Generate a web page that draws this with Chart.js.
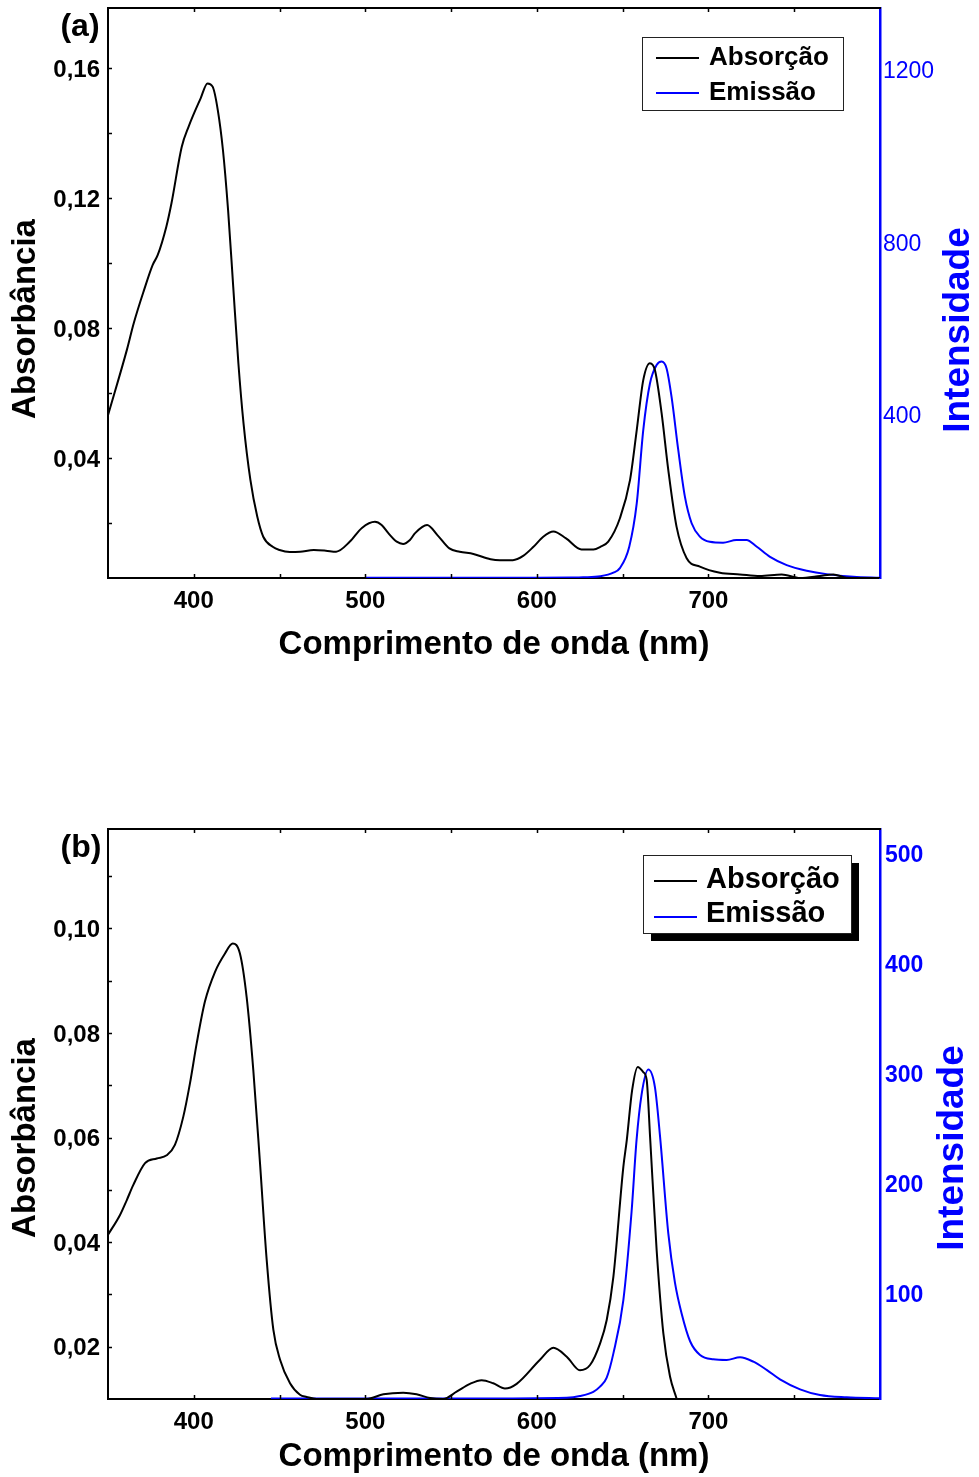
<!DOCTYPE html>
<html><head><meta charset="utf-8">
<script src="https://cdn.jsdelivr.net/npm/chart.js@4.4.1/dist/chart.umd.min.js"></script>
<style>
html,body{margin:0;padding:0;background:#fff;}
body{width:979px;height:1477px;position:relative;overflow:hidden;}
canvas{position:absolute;left:0;}
</style></head><body>
<canvas id="ca" width="979" height="690" style="top:0;width:979px;height:690px"></canvas>
<canvas id="cb" width="979" height="657" style="top:820px;width:979px;height:657px"></canvas>
<script>
const FONT = "'Liberation Sans', Arial, Helvetica, sans-serif";

// ---------- Panel (a) data ----------
const absA_wl = [350,361,365,371,376,379,384,387,393,397,404,408,411,414,417,420,423,426,429,433,437,440.5,446,450,456,462,470,477,483,491,498,505.6,509.5,513.4,518.3,522,526,529,536,542,549,555,563,573,578.5,586,592,598,603.7,609.6,617,626,633,637,641.6,648.4,654.3,658.2,662,665.9,668.8,672.7,676.6,681.4,687.3,695,706.7,718.3,730,742.7,753.4,765,772.8,780.6,800];
const absA_val = [0.0532,0.0733,0.0815,0.0917,0.0994,0.1025,0.1112,0.1184,0.1358,0.1420,0.1507,0.1553,0.1543,0.1471,0.1348,0.1163,0.0927,0.0692,0.0507,0.0333,0.0220,0.0158,0.0127,0.0117,0.0111,0.0112,0.0117,0.0115,0.0112,0.0143,0.0185,0.0204,0.0194,0.0169,0.0143,0.0136,0.0148,0.0169,0.0194,0.0163,0.0122,0.0112,0.0105,0.0089,0.0086,0.0086,0.0099,0.0127,0.0158,0.0174,0.0153,0.0119,0.0119,0.0127,0.0143,0.0215,0.0333,0.0486,0.0640,0.0692,0.0671,0.0538,0.0363,0.0189,0.0092,0.0066,0.0047,0.0042,0.0037,0.0042,0.0031,0.0037,0.0042,0.0032,0.0031];
const emA_wl = [500,560,600,620,627,637,644.6,648.4,653.8,658.2,662,665.9,669.8,672.7,675.6,678.5,682.4,686.3,690.2,695,700.8,708.5,716.3,722.2,728,735.9,745.6,757.3,768.9,784.5,800];
const emA_val = [22.5,22.5,22.5,23,23.6,26,34.3,45,94,195,365,473,516,524,508,442,319,210,149,118,106,104,110,110,95,71,52,39,31,25,22.7];

// ---------- Panel (b) data ----------
const absB_wl = [350,357,360.9,364.7,371.6,378.4,384.2,389,393.9,397.8,401.7,406.5,412.4,418.2,422.7,426.9,430.8,434.7,438.6,442.5,446.4,450.3,456.1,461.9,465.8,471.6,479,500.8,510.5,522.1,529.9,537.7,545.4,553.2,561,567.8,574.6,581.4,588.2,601.8,609.6,617.4,625.1,631,636.8,640.7,644.6,650.4,652.4,655.5,658.8,662,664,666,669.8,673.7,677.6,681.5,684];
const absB_val = [0.0414,0.0452,0.0480,0.0509,0.0551,0.0560,0.0566,0.0586,0.0640,0.0704,0.0780,0.0860,0.0917,0.0952,0.0971,0.0952,0.0869,0.0729,0.0551,0.0366,0.0232,0.0175,0.0130,0.0108,0.0104,0.0100,0.0100,0.0100,0.0109,0.0112,0.0109,0.0102,0.0100,0.0114,0.0129,0.0136,0.0130,0.0120,0.0129,0.0175,0.0198,0.0181,0.0155,0.0165,0.0206,0.0251,0.0334,0.0544,0.0595,0.0690,0.0735,0.0725,0.0710,0.0600,0.0385,0.0226,0.0143,0.0100,0.0070];
const emB_wl = [445,500,560,617.4,625.1,632.9,636.8,640.7,644.6,650.4,655.2,658.1,661,664.9,668.8,671.8,676.6,680.5,684.4,689.3,695.1,702.8,710.6,718.4,726.2,733.9,741.7,753.4,765,780.6,800];
const emB_val = [5,5,5,5.7,7.2,11,15.7,24,46,94.5,175,240,281,304,288,243,155,110,82,57,44.5,40.6,40,42.4,38.4,31,22.4,13.3,8.1,6,5.1];

// ---------- ticks & labels ----------
const xTicks = [400,500,600,700];
const xMinor = [400,450,500,550,600,650,700,750];
const yTicksA = [0.04,0.08,0.12,0.16];
const yMinorA = [0.02,0.04,0.06,0.08,0.10,0.12,0.14,0.16];
const y2TicksA = [400,800,1200];
const yTicksB = [0.02,0.04,0.06,0.08,0.10];
const yMinorB = [0.02,0.03,0.04,0.05,0.06,0.07,0.08,0.09,0.10,0.11];
const y2TicksB = [100,200,300,400,500];
const seriesLabels = ['Absorção','Emissão'];
const titleX = 'Comprimento de onda (nm)';
const titleY = 'Absorbância';
const titleY2 = 'Intensidade';
const panelLabels = ['(a)','(b)'];

function pts(xs, ys){ return xs.map((x,i)=>({x:x, y:ys[i]})); }
const comma = v => Number(v).toFixed(2).replace('.', ',');
function noPad(sc){ sc.paddingTop = 0; sc.paddingBottom = 0; sc.paddingLeft = 0; sc.paddingRight = 0; }

const decor = {
  id:'decor',
  afterDraw(chart, args, o){
    const ctx = chart.ctx, a = chart.chartArea, s = chart.scales;
    ctx.save();
    ctx.strokeStyle='#000'; ctx.lineWidth=2;
    ctx.beginPath(); ctx.moveTo(a.left-1,a.top); ctx.lineTo(a.right+1,a.top); ctx.stroke();
    ctx.lineWidth=1.5;
    ctx.beginPath();
    o.xMinor.forEach(v=>{const p=Math.round(s.x.getPixelForValue(v))+0.5;
      ctx.moveTo(p,a.bottom); ctx.lineTo(p,a.bottom-o.tick);
      ctx.moveTo(p,a.top); ctx.lineTo(p,a.top+o.tick);});
    o.yMinor.forEach(v=>{const p=Math.round(s.y.getPixelForValue(v))+0.5;
      ctx.moveTo(a.left,p); ctx.lineTo(a.left+o.tick,p);});
    ctx.stroke();
    ctx.fillStyle='#000'; ctx.font='bold '+o.panelSize+'px '+FONT;
    ctx.textAlign='center'; ctx.textBaseline='alphabetic';
    ctx.fillText(o.panel, o.panelX, o.panelY);
    ctx.textBaseline='middle';
    ctx.save(); ctx.translate(o.yTitle.x, o.yTitle.y); ctx.rotate(-Math.PI/2);
    ctx.font='bold '+o.yTitle.size+'px '+FONT; ctx.fillStyle='#000';
    ctx.fillText(titleY,0,0); ctx.restore();
    ctx.save(); ctx.translate(o.y2Title.x, o.y2Title.y); ctx.rotate(-Math.PI/2);
    ctx.font='bold '+o.y2Title.size+'px '+FONT; ctx.fillStyle='#0000ff';
    ctx.fillText(titleY2,0,0); ctx.restore();
    const L = o.legend;
    if (L.shadow){ ctx.fillStyle='#000'; ctx.fillRect(L.x+L.shadow, L.y+L.shadow, L.w, L.h); }
    ctx.fillStyle='#fff'; ctx.fillRect(L.x, L.y, L.w, L.h);
    ctx.strokeStyle='#222'; ctx.lineWidth=1; ctx.strokeRect(L.x+0.5, L.y+0.5, L.w, L.h);
    chart.data.datasets.forEach((d,i)=>{
      ctx.strokeStyle=d.borderColor; ctx.lineWidth=2;
      ctx.beginPath(); ctx.moveTo(L.lx0, L.rows[i]); ctx.lineTo(L.lx1, L.rows[i]); ctx.stroke();
      ctx.fillStyle='#000'; ctx.font='bold '+L.size+'px '+FONT;
      ctx.textAlign='left'; ctx.textBaseline='alphabetic';
      ctx.fillText(d.label, L.tx, L.base[i]);
    });
    ctx.restore();
  }
};

function makeChart(id, c){
  return new Chart(document.getElementById(id), {
    type:'line',
    data:{datasets:[
      {label:seriesLabels[0], data:pts(c.absWl,c.absVal), yAxisID:'y', borderColor:'#000000', borderWidth:2, pointRadius:0, cubicInterpolationMode:'monotone', fill:false},
      {label:seriesLabels[1], data:pts(c.emWl,c.emVal), yAxisID:'y2', borderColor:'#0000ff', borderWidth:2, pointRadius:0, cubicInterpolationMode:'monotone', fill:false}
    ]},
    options:{
      responsive:false, animation:false, devicePixelRatio:1,
      layout:{padding:{top:c.padTop,left:0,right:0,bottom:0}},
      plugins:{legend:{display:false}, tooltip:{enabled:false}, decor:c.decor},
      scales:{
        x:{type:'linear', position:'bottom', min:350, max:800,
          afterBuildTicks: sc=>{sc.ticks = xTicks.map(v=>({value:v}));},
          afterFit: sc=>{sc.height = c.xBoxH; noPad(sc);},
          grid:{display:false, drawTicks:false},
          border:{display:true, color:'#000', width:2},
          ticks:{color:'#000', font:{family:FONT,size:24,weight:'bold'}, padding:c.xPad, maxRotation:0, autoSkip:false, callback:v=>String(v)},
          title:{display:true, text:titleX, color:'#000', font:{family:FONT,size:33,weight:'bold'}, padding:{top:0,bottom:c.xTitlePad}}
        },
        y:{type:'linear', position:'left', min:c.yMin, max:c.yMax,
          afterBuildTicks: sc=>{sc.ticks = c.yTicks.map(v=>({value:v}));},
          afterFit: sc=>{sc.width = 108; noPad(sc);},
          grid:{display:false, drawTicks:false},
          border:{display:true, color:'#000', width:2},
          ticks:{color:'#000', font:{family:FONT,size:24,weight:'bold'}, padding:8, labelOffset:2, autoSkip:false, callback:comma}
        },
        y2:{type:'linear', position:'right', min:c.y2Min, max:c.y2Max,
          afterBuildTicks: sc=>{sc.ticks = c.y2Ticks.map(v=>({value:v}));},
          afterFit: sc=>{sc.width = 99; noPad(sc);},
          grid:{display:false, drawTicks:false},
          border:{display:true, color:'#0000ff', width:2.5},
          ticks:{color:'#0000ff', font:{family:FONT,size:23,weight:c.y2Weight}, padding:c.y2Pad, labelOffset:2, autoSkip:false, callback:v=>String(v)}
        }
      }
    },
    plugins:[decor]
  });
}

makeChart('ca', {
  absWl:absA_wl, absVal:absA_val, emWl:emA_wl, emVal:emA_val,
  padTop:8, xBoxH:112, xPad:9, xTitlePad:25,
  yMin:0.0031, yMax:0.1785, yTicks:yTicksA,
  y2Min:22, y2Max:1344, y2Ticks:y2TicksA, y2Weight:'normal', y2Pad:3,
  decor:{xMinor:xMinor, yMinor:yMinorA, tick:4,
    panel:panelLabels[0], panelSize:32, panelX:80, panelY:36,
    yTitle:{x:26, y:319, size:33}, y2Title:{x:959, y:330, size:37},
    legend:{x:642, y:37, w:201, h:73, shadow:0, lx0:656, lx1:699, rows:[58,93], tx:709, base:[65,100], size:26}}
});

makeChart('cb', {
  absWl:absB_wl, absVal:absB_val, emWl:emB_wl, emVal:emB_val,
  padTop:9, xBoxH:78, xPad:9, xTitlePad:0,
  yMin:0.01, yMax:0.119, yTicks:yTicksB,
  y2Min:4.5, y2Max:522.7, y2Ticks:y2TicksB, y2Weight:'bold', y2Pad:5,
  decor:{xMinor:xMinor, yMinor:yMinorB, tick:4,
    panel:panelLabels[1], panelSize:32, panelX:81, panelY:37,
    yTitle:{x:26, y:318, size:33}, y2Title:{x:953, y:328, size:37},
    legend:{x:643, y:35, w:208, h:78, shadow:8, lx0:654, lx1:697, rows:[61,97], tx:706, base:[68,101.5], size:29}}
});
</script></body></html>
